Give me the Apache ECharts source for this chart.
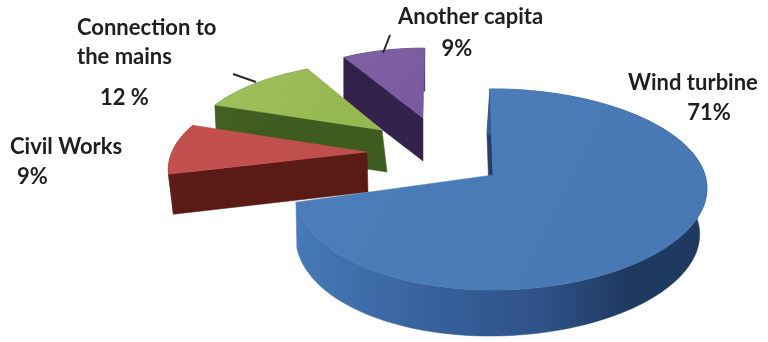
<!DOCTYPE html>
<html>
<head>
<meta charset="utf-8">
<style>html,body{margin:0;padding:0;background:#fff}#chart{width:768px;height:342px}</style>
<script src="https://cdn.jsdelivr.net/npm/echarts@6/dist/echarts.min.js"></script>
</head>
<body>
<div id="chart"></div>
<script>
// Cost shares of a wind installation in percent, clockwise from the top of the pie.
const categories = ['Wind turbine', 'Civil Works', 'Connection to the mains', 'Another capita'];
const shares = [71, 9, 12, 9];

// Each caption line: text, x, y, alignment.
const captionLines = [
  [['Wind turbine', 628, 83, 'left'], ['71%', 709, 113, 'center']],
  [['Civil Works', 10, 147, 'left'], ['9%', 17, 177, 'left']],
  [['Connection to', 77, 28, 'left'], ['the mains', 77, 57, 'left'], ['12 %', 100, 98, 'left']],
  [['Another capita', 398, 17, 'left'], ['9%', 457, 49, 'center']]
];

// Short ticks tying a caption to its wedge.
const leaders = [null, null, [233, 74, 256, 82], [390, 35, 383, 53]];

// Wedge placement: apex, radii, wall height, perspective and drawing order.
const wedgeLayout = [
  { ax: 493, ay: 175, rx: 204, ry: 98.5, persp: 0.144, lean: 8, turn: 0,    depth: 46, dropX: -3, dropScale: 0.98,  order: 4 },
  { ax: 367, ay: 152, rx: 195, ry: 89,   persp: 0.193, lean: 0, turn: 1.6,  depth: 40, dropX: 1,  dropScale: 0.98,  order: 3 },
  { ax: 382, ay: 130, rx: 189, ry: 82,   persp: 0.216, lean: 0, turn: 2,    depth: 42, dropX: 5,  dropScale: 1.018, order: 2 },
  { ax: 423, ay: 118, rx: 171, ry: 81,   persp: 0.16,  lean: 0, turn: -1.9, depth: 43, dropX: 0,  dropScale: 1,     order: 1 }
];

const wedgeStyle = [
  { top: ['#4b7eba', '#4878b4'], wall: [[0, '#467ab8'], [0.35, '#365f99'], [0.6, '#2f5288'], [0.8, '#1e3a61'], [1, '#203a5e']], edge: '#23406b' },
  { top: ['#c4504e', '#bd4f4c'], wall: [[0, '#611c1c'], [1, '#5a1a16']], edge: '#5a1a16' },
  { top: ['#a0c05c', '#93b650'], wall: [[0, '#42601f'], [1, '#3f5c20']], edge: '#3f5c20' },
  { top: ['#7f60a5', '#7a5a9f'], wall: [[0, '#30214a'], [1, '#33234c']], edge: '#33234c' }
];

const startAngle = -1;

function project(l, deg, r) {
  const t = deg * Math.PI / 180;
  const px = r * Math.sin(t);
  const py = -r * Math.cos(t);
  const s = 1 / (1 - l.persp * py);
  return [l.ax + l.rx * px * s + l.lean * px * px, l.ay + l.ry * py * s];
}

function wedgeChildren(index, value) {
  const l = wedgeLayout[index];
  const st = wedgeStyle[index];
  const before = shares.slice(0, index).reduce((a, b) => a + b, 0);
  const a0 = startAngle + before * 3.6 + l.turn;
  const a1 = a0 + value * 3.6;
  const arc = [];
  for (let i = 0; i <= 120; i++) arc.push(project(l, a0 + (a1 - a0) * i / 120, 1));
  const apex = [l.ax, l.ay];
  const drop = p => [l.ax + (p[0] - l.ax) * l.dropScale + l.dropX, p[1] + l.depth];
  const base = l.order * 100;
  const poly = (points, fill, z) => ({ type: 'polygon', z2: base + z, shape: { points }, style: { fill, stroke: fill, lineWidth: 0.5 }, silent: true });
  const wallFill = new echarts.graphic.LinearGradient(0, 0, 1, 0, st.wall.map(c => ({ offset: c[0], color: c[1] })));
  const topFill = new echarts.graphic.LinearGradient(0, 0, 1, 1, [{ offset: 0, color: st.top[0] }, { offset: 1, color: st.top[1] }]);
  const first = arc[0];
  // The closing radial face always looks away from the viewer, so only the opening one is drawn.
  const kids = [
    poly([apex, first, drop(first), drop(apex)], st.edge, 2),
    poly(arc.concat(arc.map(drop).reverse()), wallFill, 3),
    poly([apex].concat(arc), topFill, 4)
  ];
  captionLines[index].forEach(c => kids.push({
    type: 'text', z2: 1000, silent: true,
    style: { text: c[0], x: c[1], y: c[2], align: c[3], verticalAlign: 'middle', fill: '#1f1f1f',
      font: 'bold 22px Lato, "Open Sans", sans-serif' }
  }));
  if (leaders[index]) {
    const m = leaders[index];
    kids.push({ type: 'line', z2: 1001, silent: true, shape: { x1: m[0], y1: m[1], x2: m[2], y2: m[3] }, style: { stroke: '#2a2a2a', lineWidth: 2 } });
  }
  return kids;
}

const chart = echarts.init(document.getElementById('chart'));
chart.setOption({
  animation: false,
  backgroundColor: '#ffffff',
  series: [{
    type: 'custom',
    coordinateSystem: 'none',
    silent: true,
    data: shares.map((v, i) => ({ name: categories[i], value: [v] })),
    renderItem(params, api) {
      return { type: 'group', children: wedgeChildren(params.dataIndex, api.value(0)) };
    }
  }]
});
</script>
</body>
</html>
